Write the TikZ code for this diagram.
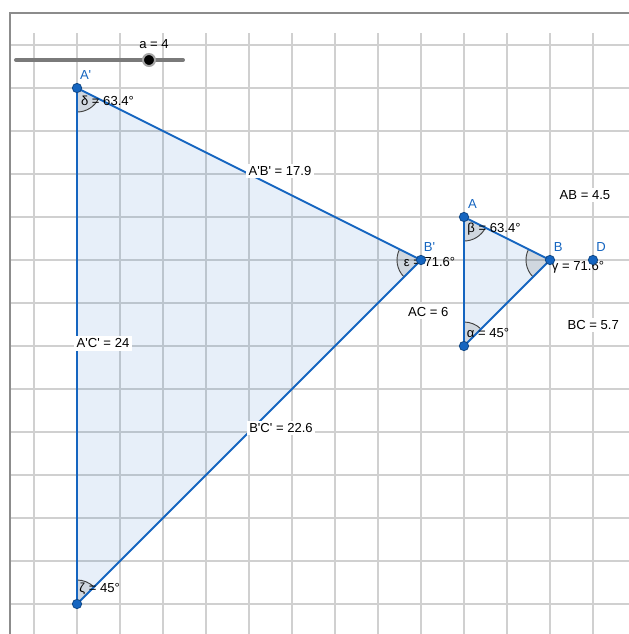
\documentclass[tikz,border=0pt]{standalone}
\usepackage{fontspec}
\setmainfont{Liberation Sans}
\usetikzlibrary{angles}
\definecolor{ggblue}{HTML}{1565C0}
\definecolor{gridgray}{HTML}{D0D0D0}
\definecolor{framegray}{HTML}{8C8C8C}
\definecolor{slidergray}{HTML}{7A7A7A}
\newcommand{\pq}{\textquotesingle}
\tikzset{
  gridline/.style={gridgray, line width=0.9pt},
  frameline/.style={framegray, line width=1.4pt},
  edge/.style={ggblue, line width=1.4pt},
  trifill/.style={fill=ggblue, fill opacity=0.1},
  point/.style={circle, fill=ggblue, draw=ggblue!70!black, line width=0.6pt, inner sep=0pt, minimum size=7pt},
  ptlabel/.style={text=ggblue, inner sep=1pt, font=\fontsize{9.8}{11}\selectfont},
  anglemark/.style={draw=black!75, line width=0.7pt, fill=black, fill opacity=0.1, angle radius=18pt},
  anglelabel/.style={inner sep=1pt, font=\fontsize{9.8}{11}\selectfont},
  lenlabel/.style={fill=white, inner sep=2pt, font=\fontsize{9.8}{11}\selectfont},
  sliderline/.style={slidergray, line width=3pt, line cap=round},
  knob/.style={circle, fill=black, draw=black!35, line width=1.5pt, inner sep=0pt, minimum size=9pt}
}
\begin{document}
\begin{tikzpicture}[x=32.25pt,y=32.25pt]
  \useasboundingbox (-1.791,-0.698) rectangle (12.837,14.047);
  \foreach \i in {-1,...,12}{
    \draw[gridline] (\i,-0.698) -- (\i,13.28);
  }
  \foreach \j in {0,...,13}{
    \draw[gridline] (-1.558,\j) -- (12.837,\j);
  }
  \draw[frameline] (-1.558,-0.698) -- (-1.558,13.744) -- (12.837,13.744);
  \coordinate (Ap) at (0,12);
  \coordinate (Bp) at (8,8);
  \coordinate (Cp) at (0,0);
  \coordinate (A) at (9,9);
  \coordinate (B) at (11,8);
  \coordinate (C) at (9,6);
  \coordinate (D) at (12,8);
  \fill[trifill] (Ap) -- (Bp) -- (Cp) -- cycle;
  \fill[trifill] (A) -- (B) -- (C) -- cycle;
  \pic[anglemark] {angle=Cp--Ap--Bp};
  \pic[anglemark] {angle=Ap--Bp--Cp};
  \pic[anglemark] {angle=Bp--Cp--Ap};
  \pic[anglemark] {angle=C--A--B};
  \pic[anglemark] {angle=A--B--C};
  \pic[anglemark] {angle=B--C--A};
  \draw[edge] (Ap) -- (Bp) -- (Cp) -- cycle;
  \draw[edge] (A) -- (B) -- (C) -- cycle;
  \node[lenlabel] (lApBp) at (4.721,10.07) {A\pq B\pq{} = 17.9};
  \node[lenlabel] (lBpCp) at (4.744,4.093) {B\pq C\pq{} = 22.6};
  \node[lenlabel] (lApCp) at (0.605,6.06) {A\pq C\pq{} = 24};
  \node[lenlabel] (lAC) at (8.17,6.80) {AC = 6};
  \node[lenlabel] (lAB) at (11.814,9.51) {AB = 4.5};
  \node[lenlabel] (lBC) at (12.007,6.49) {BC = 5.7};
  \node[anglelabel] (delta) at (0.709,11.70) {δ = 63.4°};
  \node[anglelabel] (eps) at (8.198,7.95) {ε = 71.6°};
  \node[anglelabel] (zeta) at (0.527,0.34) {ζ = 45°};
  \node[anglelabel] (beta) at (9.698,8.71) {β = 63.4°};
  \node[anglelabel] (gamma) at (11.651,7.83) {γ = 71.6°};
  \node[anglelabel] (alpha) at (9.558,6.31) {α = 45°};
  \node[point] (ApDot) at (Ap) {};
  \node[point] (BpDot) at (Bp) {};
  \node[point] (CpDot) at (Cp) {};
  \node[point] (ADot) at (A) {};
  \node[point] (BDot) at (B) {};
  \node[point] (CDot) at (C) {};
  \node[point] (DDot) at (D) {};
  \node[ptlabel] at ([shift={(0.2,0.3)}]Ap) {A\pq};
  \node[ptlabel] at ([shift={(0.2,0.3)}]Bp) {B\pq};
  \node[ptlabel] at ([shift={(0.2,0.3)}]A) {A};
  \node[ptlabel] at ([shift={(0.19,0.3)}]B) {B};
  \node[ptlabel] at ([shift={(0.19,0.3)}]D) {D};
  \coordinate (slideL) at (-1.419,12.651);
  \coordinate (slideR) at (2.465,12.651);
  \draw[sliderline] (slideL) -- (slideR);
  \node[knob] (knob) at (1.674,12.651) {};
  \node[anglelabel] (aval) at (1.791,13.03) {a = 4};
\end{tikzpicture}
\end{document}
